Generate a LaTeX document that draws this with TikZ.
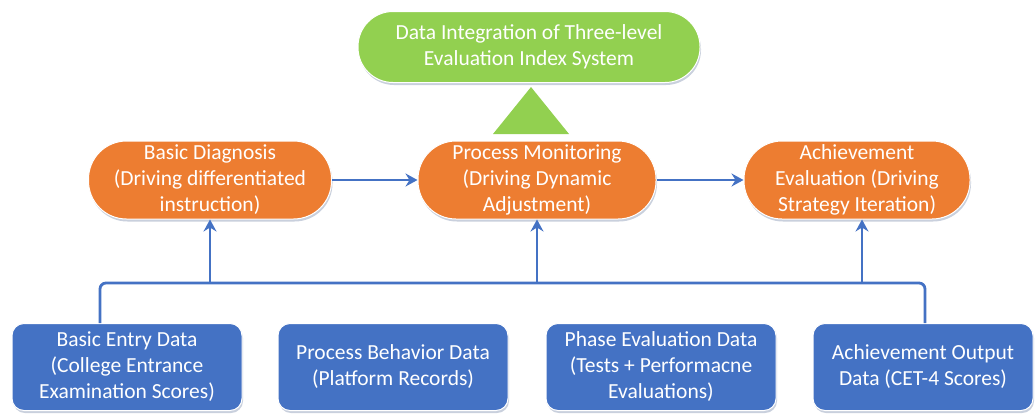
\documentclass[tikz,border=0pt]{standalone}
\usepackage{fontspec}
\setmainfont{Carlito}
\usetikzlibrary{shadows,arrows.meta}
\definecolor{topgreen}{HTML}{92D050}
\definecolor{midorange}{HTML}{ED7D31}
\definecolor{basblue}{HTML}{4472C4}
\tikzset{
  softshadow/.style={drop shadow={opacity=0.25,shadow xshift=1pt,shadow yshift=-2.5pt,fill=basblue!60!black}},
  pill/.style={draw=white,line width=1pt,rounded corners=#1,align=center,text=white,
    font=\fontsize{21.5}{26}\selectfont,inner sep=1pt,softshadow},
  topnode/.style={pill=35pt,fill=topgreen,minimum width=342pt,minimum height=71pt},
  stagenode/.style={pill=38pt,fill=midorange,minimum height=78pt},
  datanode/.style={pill=12pt,fill=basblue,minimum width=230pt,minimum height=87pt},
  link/.style={draw=basblue,line width=2.8pt},
  arrowlink/.style={link,-{Stealth[length=12pt,width=13pt,inset=4pt]}},
}
\begin{document}
\begin{tikzpicture}[x=1pt,y=-1pt]
  \useasboundingbox (0,0) rectangle (1035,413);

  % top level
  \node[topnode] (top) at (529,47) {Data Integration of Three-level\\Evaluation Index System};

  % middle level
  \node[stagenode,minimum width=243pt] (diag) at (210,180) {Basic Diagnosis\\(Driving differentiated\\instruction)};
  \node[stagenode,minimum width=238pt] (proc) at (537,180) {Process Monitoring\\(Driving Dynamic\\Adjustment)};
  \node[stagenode,minimum width=226pt] (achv) at (857,180) {Achievement\\Evaluation (Driving\\Strategy Iteration)};

  % triangle pointing to the top node
  \coordinate (apex) at (531,87);
  \fill[topgreen] (apex) -- (569,134) -- (493,134) -- cycle;

  % data sources
  \node[datanode] (entry) at (127,367) {Basic Entry Data\\(College Entrance\\Examination Scores)};
  \node[datanode] (behav) at (393,367) {Process Behavior Data\\(Platform Records)};
  \node[datanode] (phase) at (661,367) {Phase Evaluation Data\\(Tests + Performacne\\Evaluations)};
  \node[datanode,minimum width=220pt] (outp) at (923,367) {Achievement Output\\Data (CET-4 Scores)};

  % horizontal arrows between stages
  \draw[arrowlink] (diag.east) -- (proc.west);
  \draw[arrowlink] (proc.east) -- (achv.west);

  % collecting bus
  \coordinate (busl) at (100,283);
  \coordinate (busr) at (925,283);
  \draw[link,rounded corners=6pt] (entry.north -| busl) -- (busl) -- (busr) -- (outp.north -| busr);

  % arrows up from the bus
  \draw[arrowlink] (diag.south |- busl) -- (diag.south);
  \draw[arrowlink] (proc.south |- busl) -- (proc.south);
  \draw[arrowlink] ([xshift=5pt]achv.south |- busl) -- ([xshift=5pt]achv.south);
\end{tikzpicture}
\end{document}
